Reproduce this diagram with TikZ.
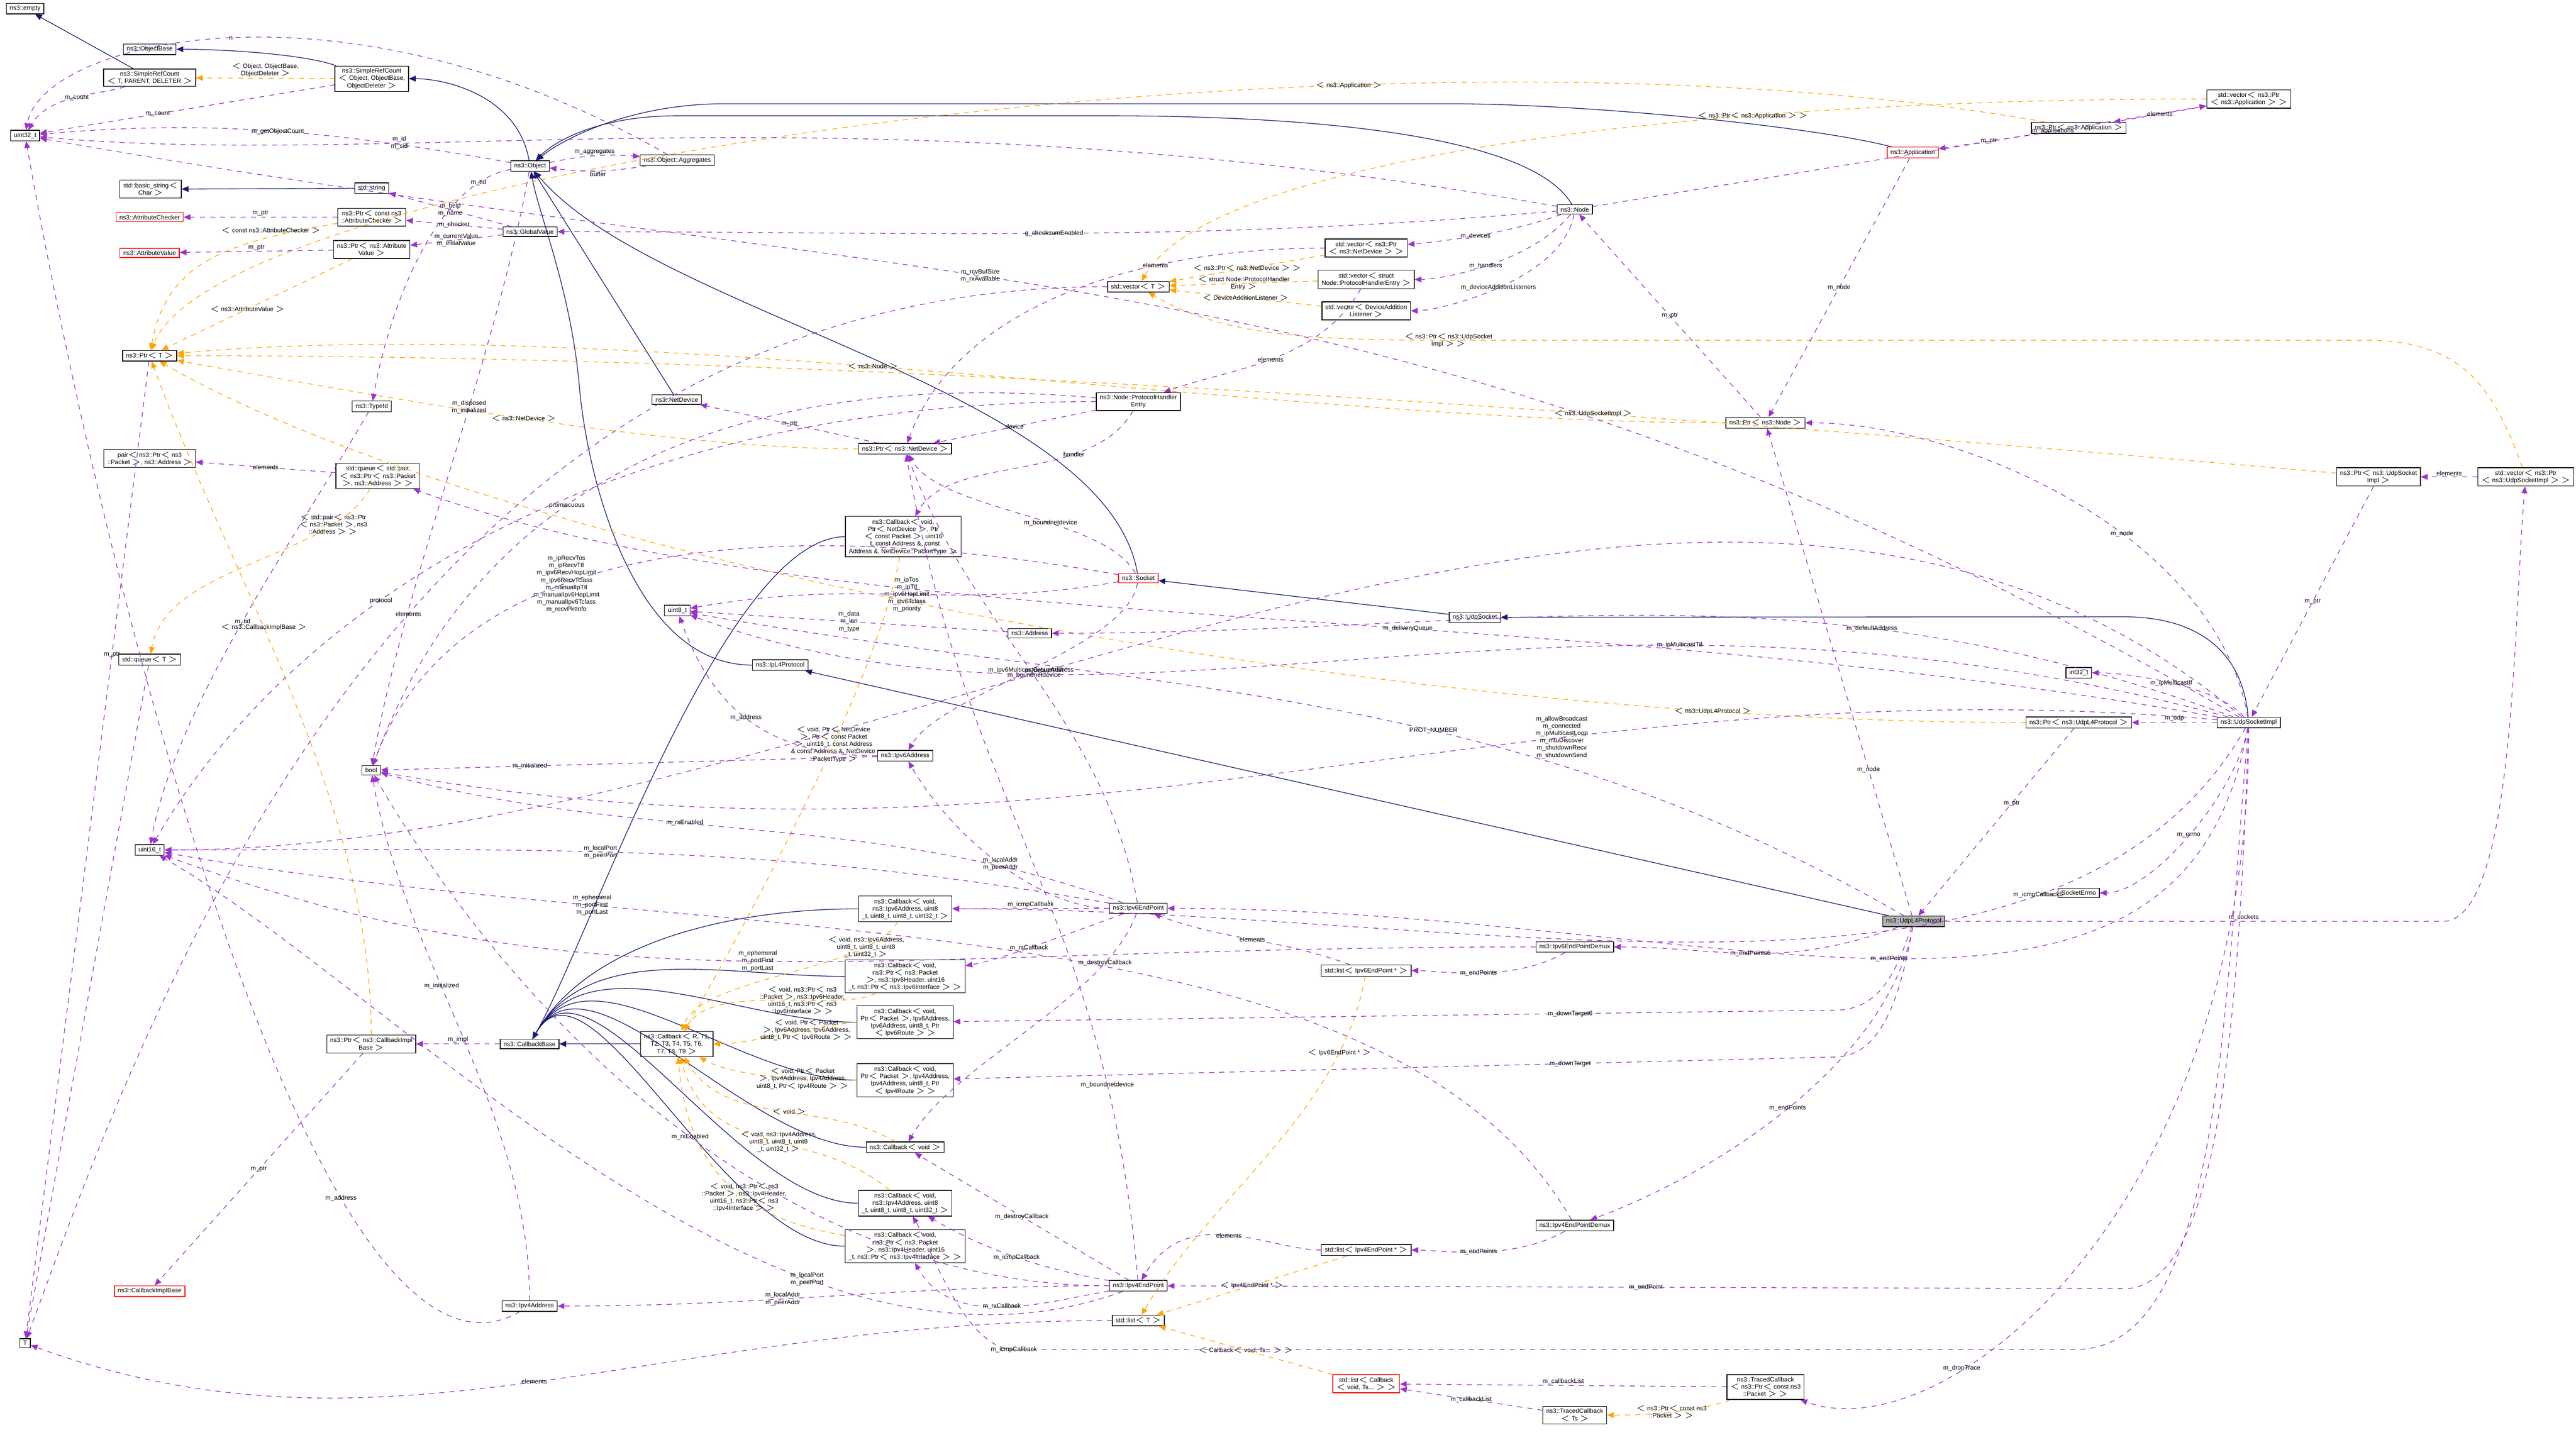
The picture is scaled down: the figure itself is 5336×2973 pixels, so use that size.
\documentclass[tikz,border=0pt]{standalone}
\usepackage{fontspec}
\setmainfont{Liberation Sans}
\usetikzlibrary{arrows.meta}

\definecolor{inhcol}{HTML}{191970}
\definecolor{usecol}{HTML}{9A32CD}
\definecolor{tplcol}{HTML}{FFA500}
\newcommand{\dfont}{\fontsize{3.7}{4.3}\selectfont}

\tikzset{
  cls/.style={draw, fill=white, align=center, font=\dfont, inner xsep=2pt, inner ysep=1.4pt},
  redcls/.style={cls, draw=red},
  gray/.style={cls, fill=black!30},
  inh/.style={draw=inhcol, -{Triangle[length=4pt,width=3.4pt]}, fill=none},
  use/.style={draw=usecol, dashed, -{Triangle[length=4pt,width=3.4pt]}},
  tpl/.style={draw=tplcol, dashed, -{Triangle[length=4pt,width=3.4pt]}},
  lbl/.style={font=\dfont, align=center, pos=0.5, inner sep=0.5pt}
}

\begin{document}
\begin{tikzpicture}[x=0.01cm, y=-0.01cm]

\useasboundingbox (0,0) rectangle (5336,2973);

% left column
\node[cls] (empty) at (52,18) {ns3::empty};
\node[cls] (objbase) at (310,102) {ns3::ObjectBase};
\node[cls] (srcT) at (310,161) {ns3::SimpleRefCount\\$<$ T, PARENT, DELETER $>$};
\node[cls] (u32) at (52,281) {uint32\_t};
\node[cls] (basicstr) at (312,392) {std::basic\_string$<$\\Char $>$};
\node[redcls] (attrchk) at (310,450) {ns3::AttributeChecker};
\node[redcls] (attrval) at (310,524) {ns3::AttributeValue};
\node[cls] (ptrT) at (310,737) {ns3::Ptr$<$ T $>$};
\node[cls] (pairpkt) at (310,950) {pair$<$ ns3::Ptr$<$ ns3\\::Packet $>$, ns3::Address $>$};
\node[cls] (queueT) at (310,1367) {std::queue$<$ T $>$};
\node[cls] (u16) at (310,1761) {uint16\_t};
\node[redcls] (implbase) at (310,2675) {ns3::CallbackImplBase};
\node[cls] (Tt) at (52,2783) {T};

% second column
\node[cls] (srcobj) at (770,163) {ns3::SimpleRefCount\\$<$ Object, ObjectBase,\\ObjectDeleter $>$};
\node[cls] (stdstr) at (770,390) {std::string};
\node[cls] (ptrchk) at (770,450) {ns3::Ptr$<$ const ns3\\::AttributeChecker $>$};
\node[cls] (ptrval) at (770,517) {ns3::Ptr$<$ ns3::Attribute\\Value $>$};
\node[cls] (typeid) at (770,842) {ns3::TypeId};
\node[cls] (queuepair) at (782,986) {std::queue$<$ std::pair\\$<$ ns3::Ptr$<$ ns3::Packet\\$>$, ns3::Address $>$ $>$};
\node[cls] (boolt) at (769,1596) {bool};
\node[cls] (ptrimpl) at (769,2163) {ns3::Ptr$<$ ns3::CallbackImpl\\Base $>$};

% third column
\node[cls] (object) at (1098,344) {ns3::Object};
\node[cls] (globval) at (1098,480) {ns3::GlobalValue};
\node[cls] (cbbase) at (1097,2163) {ns3::CallbackBase};
\node[cls] (ip4addr) at (1097,2706) {ns3::Ipv4Address};
\node[cls] (aggr) at (1403,332) {ns3::Object::Aggregates};
\node[cls] (netdev) at (1402,828) {ns3::NetDevice};
\node[cls] (u8) at (1403,1265) {uint8\_t};
\node[cls] (ipl4) at (1616,1378) {ns3::IpL4Protocol};
\node[cls] (cbR) at (1402,2163) {ns3::Callback$<$ R, T1,\\T2, T3, T4, T5, T6,\\T7, T8, T9 $>$};

% callback column
\node[cls] (ptrnd) at (1875,930) {ns3::Ptr$<$ ns3::NetDevice $>$};
\node[cls] (cbnd) at (1871,1112) {ns3::Callback$<$ void,\\Ptr$<$ NetDevice $>$, Ptr\\$<$ const Packet $>$, uint16\\\_t, const Address \&, const\\Address \&, NetDevice::PacketType $>$};
\node[cls] (ip6addr) at (1875,1566) {ns3::Ipv6Address};
\node[cls] (cbicmp6) at (1875,1883) {ns3::Callback$<$ void,\\ns3::Ipv6Address, uint8\\\_t, uint8\_t, uint8\_t, uint32\_t $>$};
\node[cls] (cbrx6) at (1875,2023) {ns3::Callback$<$ void,\\ns3::Ptr$<$ ns3::Packet\\$>$, ns3::Ipv6Header, uint16\\\_t, ns3::Ptr$<$ ns3::Ipv6Interface $>$ $>$};
\node[cls] (cbdown6) at (1875,2118) {ns3::Callback$<$ void,\\Ptr$<$ Packet $>$, Ipv6Address,\\Ipv6Address, uint8\_t, Ptr\\$<$ Ipv6Route $>$ $>$};
\node[cls] (cbdown4) at (1875,2238) {ns3::Callback$<$ void,\\Ptr$<$ Packet $>$, Ipv4Address,\\Ipv4Address, uint8\_t, Ptr\\$<$ Ipv4Route $>$ $>$};
\node[cls] (cbvoid) at (1875,2377) {ns3::Callback$<$ void $>$};
\node[cls] (cbicmp4) at (1875,2493) {ns3::Callback$<$ void,\\ns3::Ipv4Address, uint8\\\_t, uint8\_t, uint8\_t, uint32\_t $>$};
\node[cls] (cbrx4) at (1875,2582) {ns3::Callback$<$ void,\\ns3::Ptr$<$ ns3::Packet\\$>$, ns3::Ipv4Header, uint16\\\_t, ns3::Ptr$<$ ns3::Ipv4Interface $>$ $>$};

% middle columns
\node[cls] (vecT) at (2358,594) {std::vector$<$ T $>$};
\node[cls] (phentry) at (2358,832) {ns3::Node::ProtocolHandler\\Entry};
\node[redcls] (socket) at (2358,1198) {ns3::Socket};
\node[cls] (addr) at (2133,1312) {ns3::Address};
\node[cls] (ep6) at (2358,1882) {ns3::Ipv6EndPoint};
\node[cls] (ep4) at (2358,2664) {ns3::Ipv4EndPoint};
\node[cls] (listT) at (2358,2736) {std::list$<$ T $>$};
\node[cls] (vecnd) at (2830,514) {std::vector$<$ ns3::Ptr\\$<$ ns3::NetDevice $>$ $>$};
\node[cls] (vecph) at (2830,579) {std::vector$<$ struct\\Node::ProtocolHandlerEntry $>$};
\node[cls] (vecdal) at (2830,644) {std::vector$<$ DeviceAddition\\Listener $>$};
\node[cls] (list6) at (2830,2011) {std::list$<$ Ipv6EndPoint * $>$};
\node[cls] (list4) at (2830,2590) {std::list$<$ Ipv4EndPoint * $>$};
\node[redcls] (listcb) at (2830,2867) {std::list$<$ Callback\\$<$ void, Ts... $>$ $>$};
\node[cls] (udpsock) at (3055,1279) {ns3::UdpSocket};
\node[cls] (node) at (3262,434) {ns3::Node};
\node[cls] (demux6) at (3262,1962) {ns3::Ipv6EndPointDemux};
\node[cls] (demux4) at (3262,2539) {ns3::Ipv4EndPointDemux};
\node[cls] (tracedTs) at (3262,2932) {ns3::TracedCallback\\$<$ Ts $>$};
\node[cls] (ptrnode) at (3657,876) {ns3::Ptr$<$ ns3::Node $>$};
\node[cls] (tracedpkt) at (3657,2874) {ns3::TracedCallback\\$<$ ns3::Ptr$<$ const ns3\\::Packet $>$ $>$};

% right columns
\node[redcls] (app) at (3962,316) {ns3::Application};
\node[gray] (udpl4) at (3964,1909) {ns3::UdpL4Protocol};
\node[cls] (ptrapp) at (4306,265) {ns3::Ptr$<$ ns3::Application $>$};
\node[cls] (i32) at (4306,1394) {int32\_t};
\node[cls] (ptrudp) at (4306,1497) {ns3::Ptr$<$ ns3::UdpL4Protocol $>$};
\node[cls] (errno) at (4306,1850) {SocketErrno};
\node[cls] (usi) at (4658,1497) {ns3::UdpSocketImpl};
\node[cls] (vecapp) at (4658,205) {std::vector$<$ ns3::Ptr\\$<$ ns3::Application $>$ $>$};
\node[cls] (ptrusi) at (4927,988) {ns3::Ptr$<$ ns3::UdpSocket\\Impl $>$};
\node[cls] (vecusi) at (5232,988) {std::vector$<$ ns3::Ptr\\$<$ ns3::UdpSocketImpl $>$ $>$};

% inheritance
\draw[inh] (srcT) -- (empty);
\draw[inh] (srcobj) .. controls +(-160:150) and +(0:150) .. (objbase);
\draw[inh] (object) .. controls +(-100:150) and +(0:150) .. (srcobj);
\draw[inh] (stdstr) -- (basicstr);
\draw[inh] (node) .. controls +(-120:200) and +(0:300) .. (2300,240) -- (1400,240) .. controls +(180:150) and +(-45:80) .. (object);
\draw[inh] (app) .. controls +(-165:200) and +(0:300) .. (3000,215) -- (1500,215) .. controls +(180:200) and +(-40:80) .. (object);
\draw[inh] (netdev) -- (object);
\draw[inh] (socket) .. controls +(-100:400) and +(50:400) .. (object);
\draw[inh] (ipl4) .. controls +(180:300) and +(85:200) .. (1200,800) .. controls +(-95:200) and +(80:100) .. (object);
\draw[inh] (udpsock) -- (socket);
\draw[inh] (usi) .. controls +(-95:150) and +(0:150) .. (4400,1278) -- (udpsock);
\draw[inh] (udpl4) -- (ipl4);
\draw[inh] (cbR) -- (cbbase);
\foreach \cb in {cbnd, cbicmp6, cbrx6, cbdown6, cbdown4, cbvoid, cbicmp4, cbrx4}
  \draw[inh] (\cb.west) .. controls +(180:250) and +(-60:250) .. (cbbase);

% templates
\draw[tpl] (srcobj) -- node[lbl, above]{$<$ Object, ObjectBase,\\ObjectDeleter $>$} (srcT);
\draw[tpl] (ptrchk) .. controls +(-190:300) and +(-80:200) .. (ptrT) node[lbl, pos=0.05, below left]{$<$ const ns3::AttributeChecker $>$};
\draw[tpl] (ptrval) -- node[lbl, pos=0.55]{$<$ ns3::AttributeValue $>$} (ptrT);
\draw[tpl] (ptrapp) .. controls +(-170:1500) and +(-70:400) .. (ptrT) node[lbl, pos=0.3]{$<$ ns3::Application $>$};
\draw[tpl] (ptrnd) .. controls +(180:500) and +(10:500) .. (ptrT) node[lbl]{$<$ ns3::NetDevice $>$};
\draw[tpl] (ptrnode) .. controls +(180:1000) and +(-5:1000) .. (ptrT) node[lbl, pos=0.55]{$<$ ns3::Node $>$};
\draw[tpl] (ptrusi) .. controls +(-175:1500) and +(0:1500) .. (ptrT) node[lbl, pos=0.35]{$<$ ns3::UdpSocketImpl $>$};
\draw[tpl] (ptrudp) .. controls +(180:1500) and +(30:800) .. (ptrT) node[lbl, pos=0.15]{$<$ ns3::UdpL4Protocol $>$};
\draw[tpl] (ptrimpl) .. controls +(-90:500) and +(70:500) .. (ptrT) node[lbl, pos=0.6]{$<$ ns3::CallbackImplBase $>$};
\draw[tpl] (vecapp) .. controls +(180:1200) and +(-60:300) .. (vecT) node[lbl, pos=0.3]{$<$ ns3::Ptr$<$ ns3::Application $>$ $>$};
\draw[tpl] (vecnd) -- node[lbl]{$<$ ns3::Ptr$<$ ns3::NetDevice $>$ $>$} (vecT);
\draw[tpl] (vecph) -- node[lbl]{$<$ struct Node::ProtocolHandler\\Entry $>$} (vecT);
\draw[tpl] (vecdal) -- node[lbl]{$<$ DeviceAdditionListener $>$} (vecT);
\draw[tpl] (vecusi) .. controls +(-110:200) and +(0:200) .. (4900,705) -- (3000,705) .. controls +(180:300) and +(30:200) .. (vecT) node[lbl, pos=0]{$<$ ns3::Ptr$<$ ns3::UdpSocket\\Impl $>$ $>$};
\draw[tpl] (queuepair) .. controls +(120:200) and +(-80:200) .. (queueT) node[lbl, pos=0.2]{$<$ std::pair$<$ ns3::Ptr\\$<$ ns3::Packet $>$, ns3\\::Address $>$ $>$};
\draw[tpl] (cbnd) .. controls +(100:300) and +(-60:300) .. (cbR) node[lbl, pos=0.4]{$<$ void, Ptr$<$ NetDevice\\$>$, Ptr$<$ const Packet\\$>$, uint16\_t, const Address\\\& const Address \&, NetDevice\\::PacketType $>$};
\draw[tpl] (cbicmp6) .. controls +(120:150) and +(-70:150) .. (cbR) node[lbl, pos=0.2]{$<$ void, ns3::Ipv6Address,\\uint8\_t, uint8\_t, uint8\\\_t, uint32\_t $>$};
\draw[tpl] (cbrx6) .. controls +(150:150) and +(-60:150) .. (cbR) node[lbl, pos=0.4]{$<$ void, ns3::Ptr$<$ ns3\\::Packet $>$, ns3::Ipv6Header,\\uint16\_t, ns3::Ptr$<$ ns3\\::Ipv6Interface $>$ $>$};
\draw[tpl] (cbdown6) .. controls +(180:150) and +(0:150) .. (cbR) node[lbl, pos=0.4]{$<$ void, Ptr$<$ Packet\\$>$, Ipv6Address, Ipv6Address,\\uint8\_t, Ptr$<$ Ipv6Route $>$ $>$};
\draw[tpl] (cbdown4) .. controls +(180:150) and +(30:150) .. (cbR) node[lbl, pos=0.4]{$<$ void, Ptr$<$ Packet\\$>$, Ipv4Address, Ipv4Address,\\uint8\_t, Ptr$<$ Ipv4Route $>$ $>$};
\draw[tpl] (cbvoid) .. controls +(-150:200) and +(60:200) .. (cbR) node[lbl, pos=0.45]{$<$ void $>$};
\draw[tpl] (cbicmp4) .. controls +(-140:250) and +(75:250) .. (cbR) node[lbl, pos=0.45]{$<$ void, ns3::Ipv4Address,\\uint8\_t, uint8\_t, uint8\\\_t, uint32\_t $>$};
\draw[tpl] (cbrx4) .. controls +(-170:300) and +(85:300) .. (cbR) node[lbl, pos=0.45]{$<$ void, ns3::Ptr$<$ ns3\\::Packet $>$, ns3::Ipv4Header,\\uint16\_t, ns3::Ptr$<$ ns3\\::Ipv4Interface $>$ $>$};
\draw[tpl] (list6) .. controls +(100:300) and +(-60:300) .. (listT) node[lbl, pos=0.2]{$<$ Ipv6EndPoint * $>$};
\draw[tpl] (list4) -- node[lbl]{$<$ Ipv4EndPoint * $>$} (listT);
\draw[tpl] (listcb) -- node[lbl]{$<$ Callback$<$ void, Ts... $>$ $>$} (listT);
\draw[tpl] (tracedpkt) .. controls +(160:150) and +(0:150) .. (tracedTs) node[lbl]{$<$ ns3::Ptr$<$ const ns3\\::Packet $>$ $>$};

% usage
\draw[use] (srcT) .. controls +(-200:100) and +(-60:100) .. (u32) node[lbl]{m\_count};
\draw[use] (srcobj) -- node[lbl, pos=0.6]{m\_count} (u32);
\draw[use] (object) .. controls +(-170:400) and +(-5:400) .. (u32) node[lbl]{m\_getObjectCount};
\draw[use] (aggr) .. controls +(-150:800) and +(-80:200) .. (u32) node[lbl]{n};
\draw[use] (object) to[bend left=8] node[lbl, above]{m\_aggregates} (aggr);
\draw[use] (aggr) to[bend left=8] node[lbl, below]{buffer} (object);
\draw[use] (node) .. controls +(-170:1500) and +(5:800) .. (u32) node[lbl, pos=0.7]{m\_id\\m\_sid};
\draw[use] (object) .. controls +(-190:200) and +(-80:200) .. (typeid) node[lbl, pos=0.15]{m\_tid};
\draw[use] (typeid) .. controls +(120:300) and +(-80:300) .. (u16) node[lbl]{m\_tid};
\draw[use] (object) .. controls +(100:400) and +(-80:400) .. (boolt) node[lbl, pos=0.4]{m\_disposed\\m\_initialized};
\draw[use] (globval) -- node[lbl]{m\_help\\m\_name} (stdstr);
\draw[use] (globval) -- node[lbl]{m\_checker} (ptrchk);
\draw[use] (globval) -- node[lbl]{m\_currentValue\\m\_initialValue} (ptrval);
\draw[use] (ptrchk) -- node[lbl, above]{m\_ptr} (attrchk);
\draw[use] (ptrval) -- node[lbl, above]{m\_ptr} (attrval);
\draw[use] (node) .. controls +(-185:800) and +(0:800) .. (globval) node[lbl]{g\_checksumEnabled};
\draw[use] (vecT) .. controls +(180:1500) and +(-70:800) .. (Tt) node[lbl, pos=0.45]{elements};
\draw[use] (ptrT) -- node[lbl, pos=0.3]{m\_ptr} (Tt);
\draw[use] (listT) .. controls +(180:1000) and +(20:800) .. (Tt) node[lbl]{elements};
\draw[use] (queueT) -- (Tt);
\draw[use] (node) .. controls +(160:150) and +(-5:150) .. (vecnd) node[lbl]{m\_devices};
\draw[use] (node) .. controls +(130:150) and +(0:150) .. (vecph) node[lbl]{m\_handlers};
\draw[use] (node) .. controls +(100:150) and +(0:150) .. (vecdal) node[lbl]{m\_deviceAdditionListeners};
\draw[use] (node) -- node[lbl, pos=0.75]{m\_applications} (vecapp);
\draw[use] (vecapp) -- node[lbl]{elements} (ptrapp);
\draw[use] (ptrapp) -- node[lbl]{m\_ptr} (app);
\draw[use] (app) -- node[lbl]{m\_node} (ptrnode);
\draw[use] (ptrnode) -- node[lbl]{m\_ptr} (node);
\draw[use] (vecnd) .. controls +(180:500) and +(-70:300) .. (ptrnd) node[lbl, pos=0.3]{elements};
\draw[use] (vecph) .. controls +(120:200) and +(-20:200) .. (phentry) node[lbl]{elements};
\draw[use] (phentry) -- node[lbl]{device} (ptrnd);
\draw[use] (phentry) .. controls +(120:200) and +(-60:200) .. (cbnd) node[lbl, pos=0.3]{handler};
\draw[use] (phentry) .. controls +(180:1200) and +(-60:500) .. (u16) node[lbl, pos=0.6]{protocol};
\draw[use] (phentry) .. controls +(-175:1000) and +(-70:500) .. (boolt) node[lbl, pos=0.55]{promiscuous};
\draw[use] (ptrnd) -- node[lbl]{m\_ptr} (netdev);
\draw[use] (usi) .. controls +(-150:2000) and +(10:2000) .. (u32) node[lbl, pos=0.6]{m\_rcvBufSize\\m\_rxAvailable};
\draw[use] (usi) .. controls +(-100:400) and +(0:400) .. (ptrnode) node[lbl, pos=0.4]{m\_node};
\draw[use] (usi) .. controls +(-140:1500) and +(0:1500) .. (u16) node[lbl, pos=0.6]{m\_defaultPort};
\draw[use] (socket) .. controls +(-190:400) and +(-10:400) .. (u8) node[lbl]{m\_ipTos\\m\_ipTtl\\m\_ipv6HopLimit\\m\_ipv6Tclass\\m\_priority};
\draw[use] (socket) .. controls +(-170:800) and +(-70:500) .. (boolt) node[lbl, pos=0.6]{m\_ipRecvTos\\m\_ipRecvTtl\\m\_ipv6RecvHopLimit\\m\_ipv6RecvTclass\\m\_manualIpTtl\\m\_manualIpv6HopLimit\\m\_manualIpv6Tclass\\m\_recvPktInfo};
\draw[use] (socket) .. controls +(-120:150) and +(60:150) .. (ptrnd) node[lbl, pos=0.4]{m\_boundnetdevice};
\draw[use] (ep6) .. controls +(-100:400) and +(70:400) .. (ptrnd) node[lbl]{m\_boundnetdevice};
\draw[use] (ep4) .. controls +(-95:800) and +(80:800) .. (ptrnd) node[lbl, pos=0.2]{m\_boundnetdevice};
\draw[use] (addr) -- node[lbl]{m\_data\\m\_len\\m\_type} (u8);
\draw[use] (usi) .. controls +(-160:1000) and +(0:1000) .. (addr) node[lbl, pos=0.3]{m\_defaultAddress};
\draw[use] (usi) .. controls +(-165:1500) and +(20:1000) .. (u8) node[lbl, pos=0.3]{m\_ipMulticastTtl};
\draw[use] (socket) .. controls +(100:150) and +(-60:150) .. (ip6addr) node[lbl]{m\_ipv6MulticastGroupAddress};
\draw[use] (ip6addr) .. controls +(180:300) and +(70:200) .. (u8) node[lbl]{m\_address};
\draw[use] (ip6addr) -- node[lbl, pos=0.7]{m\_initialized} (boolt);
\draw[use] (ip4addr) .. controls +(-90:400) and +(80:400) .. (boolt) node[lbl, pos=0.6]{m\_initialized};
\draw[use] (ip4addr) .. controls +(150:500) and +(80:1000) .. (u32) node[lbl, pos=0.3]{m\_address};
\draw[use] (usi) .. controls +(-170:1500) and +(20:1000) .. (queuepair) node[lbl, pos=0.4]{m\_deliveryQueue};
\draw[use] (queuepair) -- node[lbl]{elements} (pairpkt);
\draw[use] (usi) .. controls +(-175:1500) and +(10:1500) .. (boolt) node[lbl, pos=0.35]{m\_allowBroadcast\\m\_connected\\m\_ipMulticastLoop\\m\_mtuDiscover\\m\_shutdownRecv\\m\_shutdownSend};
\draw[use] (ep6) .. controls +(-160:600) and +(15:600) .. (boolt) node[lbl, pos=0.6]{m\_rxEnabled};
\draw[use] (ep4) .. controls +(180:800) and +(60:500) .. (boolt) node[lbl, pos=0.45]{m\_rxEnabled};
\draw[use] (ep6) .. controls +(-170:800) and +(0:800) .. (u16) node[lbl, pos=0.55]{m\_localPort\\m\_peerPort};
\draw[use] (ep4) .. controls +(160:800) and +(30:600) .. (u16) node[lbl, pos=0.3]{m\_localPort\\m\_peerPort};
\draw[use] (usi) .. controls +(120:800) and +(0:1200) .. (cbicmp6) node[lbl, pos=0.25]{m\_icmpCallback6};
\draw[use] (usi) .. controls +(95:600) and +(0:300) .. (4300,2796) -- (2100,2796) .. controls +(180:100) and +(60:100) .. (cbicmp4) node[lbl, pos=0]{m\_icmpCallback};
\draw[use] (udpl4) .. controls +(-150:1000) and +(10:1000) .. (u8) node[lbl, pos=0.4]{PROT\_NUMBER};
\draw[use] (ep6) .. controls +(180:200) and +(60:200) .. (ip6addr) node[lbl]{m\_localAddr\\m\_peerAddr};
\draw[use] (ep4) .. controls +(180:500) and +(0:500) .. (ip4addr) node[lbl, pos=0.6]{m\_localAddr\\m\_peerAddr};
\draw[use] (ep6) -- node[lbl, above]{m\_icmpCallback} (cbicmp6);
\draw[use] (ep6) .. controls +(160:200) and +(-10:200) .. (cbrx6) node[lbl]{m\_rxCallback};
\draw[use] (ep6) .. controls +(110:200) and +(-60:200) .. (cbvoid) node[lbl, pos=0.2]{m\_destroyCallback};
\draw[use] (ep4) .. controls +(-170:200) and +(30:200) .. (cbicmp4) node[lbl]{m\_icmpCallback};
\draw[use] (ep4) .. controls +(170:200) and +(60:200) .. (cbrx4) node[lbl]{m\_rxCallback};
\draw[use] (ep4) -- node[lbl]{m\_destroyCallback} (cbvoid);
\draw[use] (usi) .. controls +(100:800) and +(0:1200) .. (ep6) node[lbl]{m\_endPoint6};
\draw[use] (usi) .. controls +(92:600) and +(0:200) .. (4400,2670) -- (ep4) node[lbl]{m\_endPoint};
\draw[use] (udpl4) .. controls +(160:300) and +(0:300) .. (demux6) node[lbl]{m\_endPoints6};
\draw[use] (udpl4) .. controls +(100:300) and +(-20:300) .. (demux4) node[lbl]{m\_endPoints};
\draw[use] (demux6) .. controls +(150:150) and +(0:150) .. (list6) node[lbl]{m\_endPoints};
\draw[use] (demux4) .. controls +(150:150) and +(0:150) .. (list4) node[lbl]{m\_endPoints};
\draw[use] (list6) .. controls +(-160:200) and +(20:200) .. (ep6) node[lbl]{elements};
\draw[use] (list4) .. controls +(180:200) and +(-60:200) .. (ep4) node[lbl]{elements};
\draw[use] (demux6) .. controls +(180:1500) and +(20:1000) .. (u16) node[lbl]{m\_ephemeral\\m\_portFirst\\m\_portLast};
\draw[use] (demux4) .. controls +(-120:800) and +(10:1200) .. (u16) node[lbl, pos=0.75]{m\_ephemeral\\m\_portFirst\\m\_portLast};
\draw[use] (udpl4) .. controls +(110:100) and +(0:100) .. (3800,2093) -- (cbdown6) node[lbl, pos=0.3]{m\_downTarget6};
\draw[use] (udpl4) .. controls +(100:150) and +(0:100) .. (3800,2190) -- (cbdown4) node[lbl, pos=0.3]{m\_downTarget};
\draw[use] (udpl4) -- node[lbl, pos=0.6, above]{m\_sockets} (5060,1909) .. controls +(0:150) and +(95:300) .. (vecusi);
\draw[use] (vecusi) -- node[lbl, above]{elements} (ptrusi);
\draw[use] (ptrusi) -- node[lbl]{m\_ptr} (usi);
\draw[use] (usi) -- node[lbl, above]{m\_udp} (ptrudp);
\draw[use] (ptrudp) -- node[lbl, pos=0.4]{m\_ptr} (udpl4);
\draw[use] (usi) .. controls +(-130:100) and +(0:100) .. (i32) node[lbl]{m\_ipMulticastIf};
\draw[use] (usi) .. controls +(100:150) and +(0:150) .. (errno) node[lbl]{m\_errno};
\draw[use] (usi) .. controls +(90:1000) and +(20:400) .. (tracedpkt) node[lbl, pos=0.7]{m\_dropTrace};
\draw[use] (udpl4) -- node[lbl, pos=0.3]{m\_node} (ptrnode);
\draw[use] (tracedpkt) -- node[lbl, above]{m\_callbackList} (listcb);
\draw[use] (tracedTs) -- node[lbl]{m\_callbackList} (listcb);
\draw[use] (cbbase) -- node[lbl, above]{m\_impl} (ptrimpl);
\draw[use] (ptrimpl) -- node[lbl]{m\_ptr} (implbase);

\end{tikzpicture}
\end{document}
